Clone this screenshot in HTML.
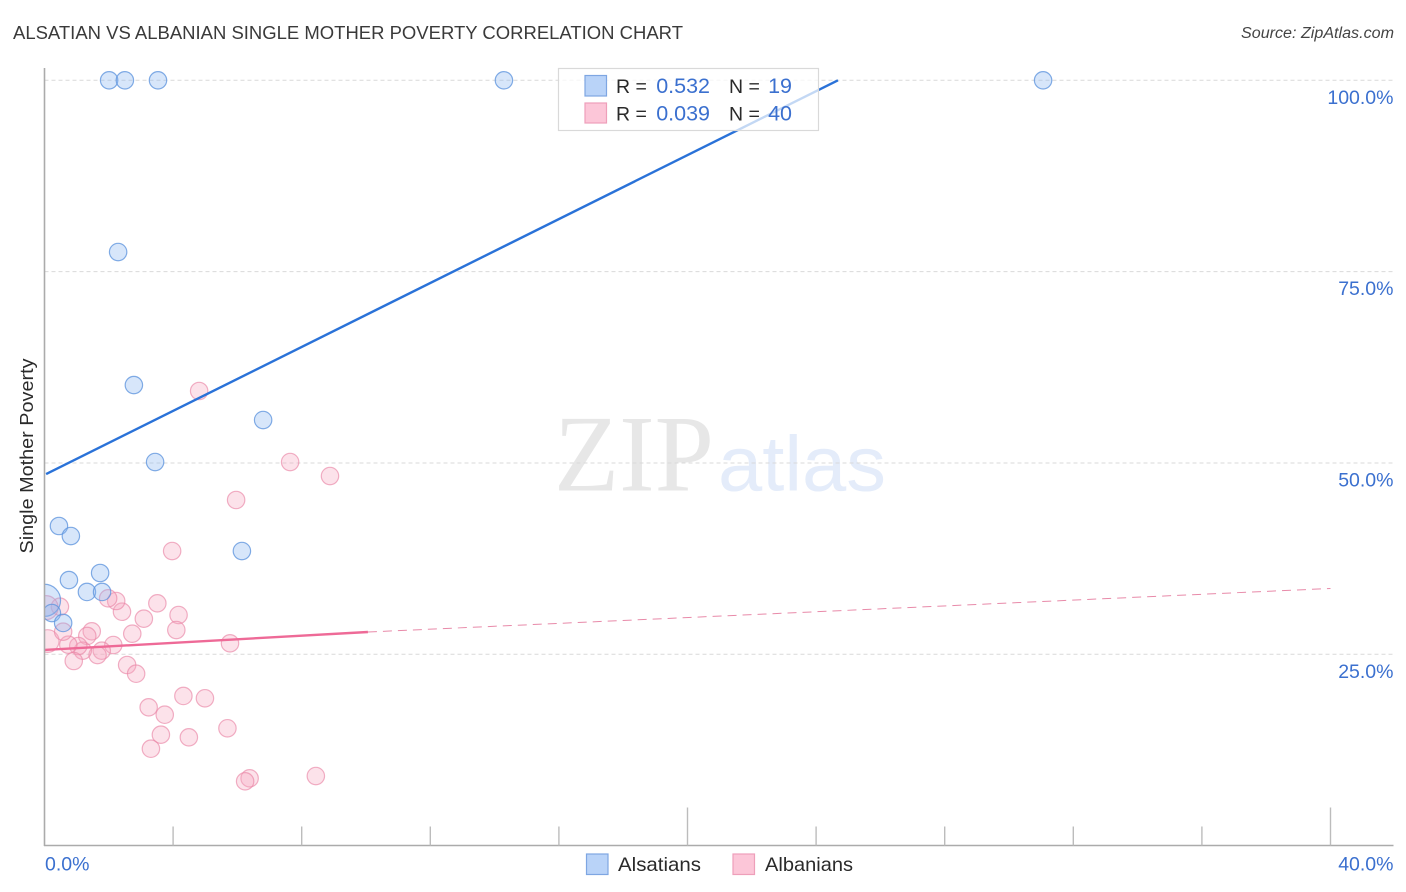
<!DOCTYPE html>
<html lang="en">
<head>
<meta charset="utf-8">
<title>Alsatian vs Albanian Single Mother Poverty Correlation Chart</title>
<style>
html,body{margin:0;padding:0;background:#fff;}
#wrap{position:relative;width:1406px;height:892px;overflow:hidden;background:#fff;}
svg{display:block;font-family:"Liberation Sans",sans-serif;}
</style>
</head>
<body>
<div id="wrap">
<svg id="chart" width="1406" height="892" viewBox="0 0 1406 892">
  <defs>
    <clipPath id="plot-clip"><rect x="44.5" y="60" width="1350" height="785.5"/></clipPath>
  </defs>
  <text x="13" y="39" font-size="18.5" fill="#3a3a3a" textLength="670" lengthAdjust="spacingAndGlyphs">ALSATIAN VS ALBANIAN SINGLE MOTHER POVERTY CORRELATION CHART</text>
  <text x="1394" y="38" font-size="15.5" font-style="italic" fill="#444" text-anchor="end" textLength="153" lengthAdjust="spacingAndGlyphs">Source: ZipAtlas.com</text>

  <g id="watermark">
    <text x="554" y="490.5" font-family="'Liberation Serif',serif" font-size="109" fill="#e7e7e7" textLength="160" lengthAdjust="spacingAndGlyphs">ZIP</text>
    <text x="718" y="490.5" font-size="78" fill="#e4ecfa" textLength="168" lengthAdjust="spacingAndGlyphs">atlas</text>
  </g>

  <g id="grid"></g>
  <g id="pink-points" clip-path="url(#plot-clip)"></g>
  <g id="blue-points" clip-path="url(#plot-clip)"></g>
  <g id="trends"></g>
  <g id="axes"></g>

  <g id="stats-legend">
    <rect x="558.5" y="68.5" width="260" height="62" fill="#fff" fill-opacity="0.72" stroke="#d9d9d9" stroke-width="1.2"/>
    <rect x="585" y="75.5" width="21.5" height="20.5" fill="#b9d3f8" stroke="#7ea6e2" stroke-width="1.2"/>
    <rect x="585" y="103" width="21.5" height="20" fill="#fcc6d8" stroke="#ee9fba" stroke-width="1.2"/>
    <text x="616" y="93" font-size="19.5" fill="#2a2a2a">R =</text>
    <text x="710" y="93" font-size="21.5" fill="#3b70cf" text-anchor="end">0.532</text>
    <text x="729" y="93" font-size="19.5" fill="#2a2a2a">N =</text>
    <text x="792" y="93" font-size="21.5" fill="#3b70cf" text-anchor="end">19</text>
    <text x="616" y="120.5" font-size="19.5" fill="#2a2a2a">R =</text>
    <text x="710" y="120.5" font-size="21.5" fill="#3b70cf" text-anchor="end">0.039</text>
    <text x="729" y="120.5" font-size="19.5" fill="#2a2a2a">N =</text>
    <text x="792" y="120.5" font-size="21.5" fill="#3b70cf" text-anchor="end">40</text>
  </g>

  <text transform="translate(33,456) rotate(-90)" font-size="18.5" fill="#2a2a2a" text-anchor="middle" textLength="195" lengthAdjust="spacingAndGlyphs">Single Mother Poverty</text>

  <g id="bottom-legend">
    <rect x="586.5" y="854" width="21.5" height="20.5" fill="#b9d3f8" stroke="#7ea6e2" stroke-width="1.2"/>
    <text x="618" y="871" font-size="19.5" fill="#2a2a2a" textLength="83" lengthAdjust="spacingAndGlyphs">Alsatians</text>
    <rect x="733" y="854" width="21.5" height="20.5" fill="#fcc6d8" stroke="#ee9fba" stroke-width="1.2"/>
    <text x="765" y="871" font-size="19.5" fill="#2a2a2a" textLength="88" lengthAdjust="spacingAndGlyphs">Albanians</text>
  </g>
</svg>
</div>
<script>
const yTickValues = [25, 50, 75, 100];
const yTickLabels = ["25.0%", "50.0%", "75.0%", "100.0%"];
const xTickValues = [0, 4, 8, 12, 16, 20, 24, 28, 32, 36, 40];
const xMajorTicks = [20, 40];
const xEndValues = [0, 40];
const xEndLabels = ["0.0%", "40.0%"];

const alsatianX = [2.01, 2.50, 3.53, 14.29, 31.06, 2.29, 2.78, 6.80, 3.44, 0.45, 0.82, 6.14, 1.73, 0.76, 1.32, 1.79, 0.00, 0.23, 0.58];
const alsatianY = [100, 100, 100, 100, 100, 77.56, 60.18, 55.61, 50.12, 41.76, 40.45, 38.49, 35.62, 34.70, 33.14, 33.14, 32.05, 30.39, 29.09];
const alsatianWeight = [1, 1, 1, 1, 1, 1, 1, 1, 1, 1, 1, 1, 1, 1, 1, 1, 3.4, 1, 1];

const albanianX = [4.81, 7.64, 8.88, 5.96, 3.97, 3.51, 4.17, 3.09, 4.10, 2.73, 5.77, 2.41, 2.23, 1.98, 0.48, 0.05, 1.47, 1.33, 2.14, 1.78, 1.65, 1.19, 1.05, 0.74, 0.91, 0.10, 0.58, 2.57, 2.85, 4.32, 4.99, 3.24, 3.74, 3.62, 4.49, 5.69, 3.31, 6.38, 6.24, 8.44];
const albanianY = [59.40, 50.12, 48.29, 45.16, 38.49, 31.66, 30.13, 29.65, 28.17, 27.69, 26.43, 30.56, 31.96, 32.31, 31.22, 31.10, 28.00, 27.39, 26.21, 25.47, 24.90, 25.47, 26.08, 26.25, 24.12, 26.73, 27.95, 23.60, 22.46, 19.55, 19.25, 18.07, 17.10, 14.49, 14.15, 15.33, 12.66, 8.79, 8.40, 9.09];
const albanianWeight = [1, 1, 1, 1, 1, 1, 1, 1, 1, 1, 1, 1, 1, 1, 1, 1.9, 1, 1, 1, 1, 1, 1, 1, 1, 1, 1.7, 1, 1, 1, 1, 1, 1, 1, 1, 1, 1, 1, 1, 1, 1];

const alsatianTrendX = [0.05, 24.68];
const alsatianTrendY = [48.55, 100];
const albanianTrendX = [0, 10.06];
const albanianTrendY = [25.56, 27.91];
const albanianForecastX = [10.06, 40];
const albanianForecastY = [27.91, 33.6];

const NS = 'http://www.w3.org/2000/svg';
function xScale(v) { return 44.5 + v * 32.15; }
function yScale(v) { return 845.6 - v * 7.653; }
function make(tag, attrs, parent) {
  const el = document.createElementNS(NS, tag);
  for (const k in attrs) el.setAttribute(k, attrs[k]);
  parent.appendChild(el);
  return el;
}

const grid = document.getElementById('grid');
yTickValues.forEach(function (v, i) {
  const line = make('line', { x1: 44.5, x2: 1393, y1: yScale(v), y2: yScale(v), stroke: '#d9d9d9', 'stroke-width': 1, 'stroke-dasharray': '4 3' }, grid);
  
  
});

const axes = document.getElementById('axes');
const yAxis = make('line', { x1: 44.5, x2: 44.5, y1: 68, y2: 846, stroke: '#ababab', 'stroke-width': 1.6 }, axes);


const xAxis = make('line', { x1: 44, x2: 1393.5, y1: 845.5, y2: 845.5, stroke: '#ababab', 'stroke-width': 1.6 }, axes);



xTickValues.forEach(function (v) {
  if (v === 0) return;
  const len = xMajorTicks.indexOf(v) >= 0 ? 38 : 19;
  const t = make('line', { x1: xScale(v), x2: xScale(v), y1: 845.5 - len, y2: 845.5, stroke: '#bcbcbc', 'stroke-width': 1.4 }, axes);
  
  
});

yTickValues.forEach(function (v, i) {
  const t = make('text', { x: 1393.5, y: yScale(v) + 23.5, 'font-size': 19.5, fill: '#3b70cf', 'text-anchor': 'end' }, axes);
  t.textContent = yTickLabels[i];
  
  
});

xEndValues.forEach(function (v, i) {
  const isFirst = i === 0;
  const t = make('text', { x: isFirst ? 45 : 1393.5, y: 870.5, 'font-size': 19.5, fill: '#3b70cf', 'text-anchor': isFirst ? 'start' : 'end' }, axes);
  t.textContent = xEndLabels[i];
  
  
});

const pinkGroup = document.getElementById('pink-points');
albanianX.forEach(function (v, i) {
  const c = make('circle', { cx: xScale(v), cy: yScale(albanianY[i]), r: 8.7 * Math.sqrt(albanianWeight[i]), fill: '#f7a8c0', 'fill-opacity': 0.33, stroke: '#ea85a6', 'stroke-opacity': 0.65, 'stroke-width': 1.2 }, pinkGroup);
  
  
});

const blueGroup = document.getElementById('blue-points');
alsatianX.forEach(function (v, i) {
  const c = make('circle', { cx: xScale(v), cy: yScale(alsatianY[i]), r: 8.7 * Math.sqrt(alsatianWeight[i]), fill: '#8db8f0', 'fill-opacity': 0.35, stroke: '#5f95de', 'stroke-opacity': 0.78, 'stroke-width': 1.2 }, blueGroup);
  
  
});

const trends = document.getElementById('trends');
const blueLine = make('line', { x1: xScale(alsatianTrendX[0]), y1: yScale(alsatianTrendY[0]), x2: xScale(alsatianTrendX[1]), y2: yScale(alsatianTrendY[1]), stroke: '#2a72d8', 'stroke-width': 2.4 }, trends);


const pinkLine = make('line', { x1: xScale(albanianTrendX[0]), y1: yScale(albanianTrendY[0]), x2: xScale(albanianTrendX[1]), y2: yScale(albanianTrendY[1]), stroke: '#ee6a97', 'stroke-width': 2.4 }, trends);


const pinkDash = make('line', { x1: xScale(albanianForecastX[0]), y1: yScale(albanianForecastY[0]), x2: xScale(albanianForecastX[1]), y2: yScale(albanianForecastY[1]), stroke: '#e88aa9', 'stroke-width': 1, 'stroke-dasharray': '9 6' }, trends);


</script>
</body>
</html>
